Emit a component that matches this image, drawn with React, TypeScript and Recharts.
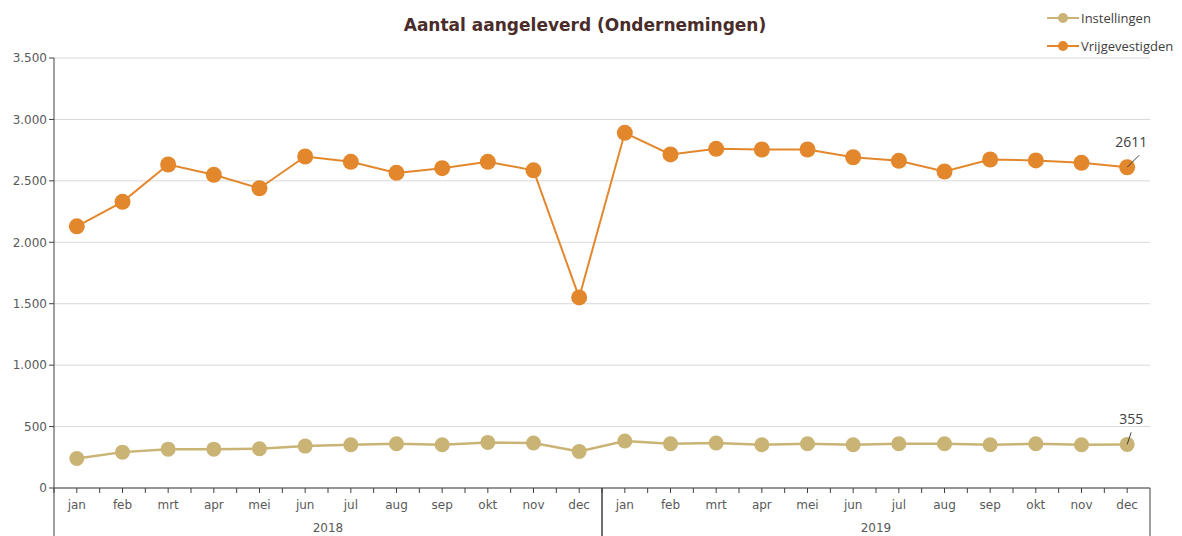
import React from 'react';
import { LineChart, Line, CartesianGrid, XAxis, YAxis, Legend, LabelList } from 'recharts';

const years = ['2018', '2019'];
const months = ['jan', 'feb', 'mrt', 'apr', 'mei', 'jun', 'jul', 'aug', 'sep', 'okt', 'nov', 'dec'];

const instellingen = [
  240, 292, 316, 316, 320, 341, 352, 360, 352, 371, 366, 298,
  382, 360, 366, 352, 360, 352, 360, 360, 352, 360, 352, 355,
];
const vrijgevestigden = [
  2130, 2329, 2633, 2549, 2440, 2698, 2655, 2565, 2603, 2655, 2586, 1551,
  2891, 2715, 2761, 2755, 2755, 2692, 2663, 2576, 2674, 2666, 2647, 2611,
];
const yTicks = [0, 500, 1000, 1500, 2000, 2500, 3000, 3500];

const GOLD = '#c9b475';
const ORANGE = '#e3872d';
const AXIS = '#404040';
const TEXT = '#595959';
const TICK_FONT = '"DejaVu Sans", sans-serif';
const LABEL_FONT = '"Open Sans", sans-serif';

const W = 1182;
const H = 536;
const TOP = 58;
const LEFT = 54;
const RIGHT = 32;
const X_AXIS_H = 48;
const BASE = H - X_AXIS_H;
const PLOT_W = W - LEFT - RIGHT;
const BAND = PLOT_W / (years.length * months.length);

const data = years.flatMap((year, yi) =>
  months.map((month, mi) => {
    const i = yi * months.length + mi;
    return {
      key: `${year}-${month}`,
      year,
      month,
      instellingen: instellingen[i],
      vrijgevestigden: vrijgevestigden[i],
    };
  }),
);

const fmt = (v: number) => v.toLocaleString('nl-NL');

const MonthTick = (props: any) => {
  const { x, payload, index } = props;
  const row = data[payload.index ?? index];
  const mi = months.indexOf(row.month);
  const left = x - BAND / 2;
  const right = x + BAND / 2;
  return (
    <g>
      <line x1={x} y1={BASE} x2={x} y2={BASE + 5} stroke={AXIS} />
      <line x1={left} y1={BASE} x2={left} y2={BASE + 5} stroke={AXIS} />
      {mi === 0 && <line x1={left} y1={BASE} x2={left} y2={H} stroke={AXIS} />}
      {mi === months.length - 1 && <line x1={right} y1={BASE} x2={right} y2={H} stroke={AXIS} />}
      <text x={x} y={BASE + 21} textAnchor="middle" fill={TEXT} fontSize={12} fontFamily={TICK_FONT}>
        {row.month}
      </text>
      {mi === 5 && (
        <text x={right} y={BASE + 44} textAnchor="middle" fill={TEXT} fontSize={12} fontFamily={TICK_FONT}>
          {row.year}
        </text>
      )}
    </g>
  );
};

const lastIdx = data.length - 1;

const EndLabel = (dy: number, dx: number) => (props: any) => {
  const { x, y, value, index } = props;
  if (index !== lastIdx) return null;
  return (
    <g>
      <line x1={x} y1={y} x2={x + dx} y2={y + dy + 8} stroke={AXIS} strokeWidth={1} />
      <text x={x + 4} y={y + dy} textAnchor="middle" fill={AXIS} fontSize={14} fontFamily={LABEL_FONT}>
        {value}
      </text>
    </g>
  );
};

const legendItems = [
  { name: 'Instellingen', color: GOLD },
  { name: 'Vrijgevestigden', color: ORANGE },
];

const LegendBox = () => (
  <div>
    {legendItems.map((item) => (
      <div key={item.name} style={{ display: 'flex', alignItems: 'center', height: 28 }}>
        <svg width={34} height={12}>
          <line x1={1} y1={6} x2={33} y2={6} stroke={item.color} strokeWidth={2} />
          <circle cx={17} cy={6} r={5} fill={item.color} />
        </svg>
        <span style={{ fontFamily: LABEL_FONT, fontSize: 13, color: AXIS, marginLeft: 1, whiteSpace: 'nowrap' }}>
          {item.name}
        </span>
      </div>
    ))}
  </div>
);

export default function App() {
  return (
    <div style={{ position: 'absolute', left: 0, top: 0, width: W, height: H, background: '#fff' }}>
      <div
        style={{
          position: 'absolute',
          left: 0,
          width: W - 12,
          top: 15,
          textAlign: 'center',
          fontFamily: TICK_FONT,
          fontWeight: 'bold',
          fontSize: 17,
          color: '#4a2c2a',
        }}
      >
        Aantal aangeleverd (Ondernemingen)
      </div>
      <LineChart width={W} height={H} data={data} margin={{ top: TOP, right: RIGHT, left: 0, bottom: 0 }}>
        <CartesianGrid vertical={false} stroke="#d9d9d9" />
        <XAxis
          dataKey="key"
          height={X_AXIS_H}
          interval={0}
          padding={{ left: BAND / 2, right: BAND / 2 }}
          tickLine={false}
          axisLine={{ stroke: AXIS }}
          tick={<MonthTick />}
        />
        <YAxis
          width={LEFT}
          domain={[0, 3500]}
          ticks={yTicks}
          tickFormatter={fmt}
          tickSize={5}
          axisLine={{ stroke: AXIS }}
          tickLine={{ stroke: AXIS }}
          tick={{ fill: TEXT, fontSize: 12, fontFamily: TICK_FONT }}
        />
        <Legend
          content={<LegendBox />}
          layout="horizontal"
          verticalAlign="middle"
          align="center"
          wrapperStyle={{ position: 'absolute', left: 1046, top: 4, width: 136 }}
        />
        <Line
          dataKey="instellingen"
          name="Instellingen"
          stroke={GOLD}
          strokeWidth={2.5}
          dot={{ r: 7.5, fill: GOLD, stroke: GOLD, strokeWidth: 0 }}
          isAnimationActive={false}
        >
          <LabelList dataKey="instellingen" content={EndLabel(-20, 4)} />
        </Line>
        <Line
          dataKey="vrijgevestigden"
          name="Vrijgevestigden"
          stroke={ORANGE}
          strokeWidth={2}
          dot={{ r: 8, fill: ORANGE, stroke: ORANGE, strokeWidth: 0 }}
          isAnimationActive={false}
        >
          <LabelList dataKey="vrijgevestigden" content={EndLabel(-20, 12)} />
        </Line>
      </LineChart>
    </div>
  );
}
